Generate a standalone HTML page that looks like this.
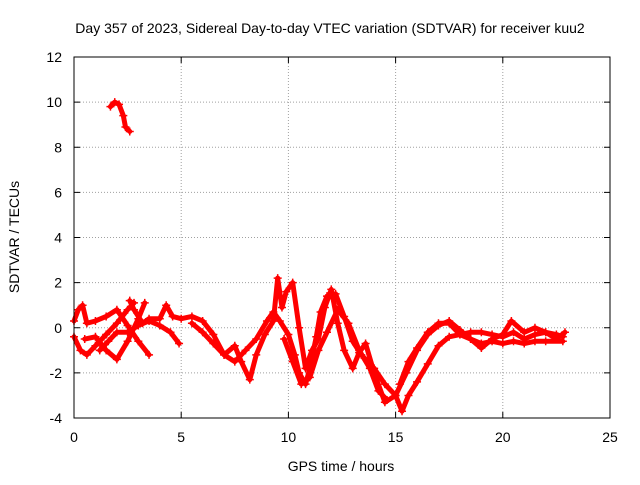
<!DOCTYPE html>
<html><head><meta charset="utf-8"><style>
body{margin:0;background:#fff;font-family:"Liberation Sans",sans-serif;}
svg text{font-family:"Liberation Sans",sans-serif;font-size:14px;fill:#000;}
</style></head><body>
<svg id="chart" width="640" height="480">
<text x="330" y="33" text-anchor="middle">Day 357 of 2023, Sidereal Day-to-day VTEC variation (SDTVAR) for receiver kuu2</text>
<text x="341" y="471" text-anchor="middle">GPS time / hours</text>
<text transform="translate(19,237) rotate(-90)" text-anchor="middle">SDTVAR / TECUs</text>
<g id="grid"></g><g id="series"></g>
<rect x="74" y="57" width="536" height="361" fill="none" stroke="#000"/>
</svg>
<script>
const xTicks=[0,5,10,15,20,25];
const yTicks=[-4,-2,0,2,4,6,8,10,12];
const traceHigh=[[1.7,9.8],[1.9,10.0],[2.1,9.9],[2.3,9.4],[2.4,8.9],[2.6,8.7]];
const traceA=[[0,-0.4],[0.3,-1.0],[0.6,-1.2],[1,-0.8],[1.5,-0.3],[2,0.2],[2.5,0.8],[2.8,1.1]];
const traceB=[[0,0.3],[0.2,0.8],[0.4,1.0],[0.6,0.2],[1,0.3],[1.5,0.5],[2,0.8],[2.5,0.1],[3,-0.6],[3.5,-1.2]];
const traceC=[[0.5,-0.5],[1,-0.4],[1.5,-1.0],[2,-1.4],[2.5,-0.6],[3,0.4],[3.3,1.1]];
const traceD=[[1.2,-1.0],[1.6,-0.6],[2,-0.2],[2.5,-0.2],[3,0.1],[3.5,0.3],[4,0.1],[4.5,-0.2],[4.9,-0.7]];
const traceE=[[2.6,1.2],[2.8,0.8],[3.2,0.2],[3.5,0.4],[4,0.4],[4.3,1.0],[4.6,0.5],[5,0.4],[5.5,0.5],[6,0.3],[6.5,-0.3],[7,-1.2],[7.5,-1.5],[8,-1.0],[8.5,-0.5],[9,0.3],[9.3,0.7],[9.6,0.3],[10,-0.3],[10.3,-1.2],[10.5,-2.0],[10.8,-2.5],[11,-1.8],[11.3,-0.4],[11.5,0.7],[11.8,1.4],[12.2,1.5],[12.6,0.5],[13,-0.6],[13.4,-1.2],[14,-1.8],[14.5,-2.5],[15,-3.0],[15.3,-3.7],[15.6,-3.0],[16,-2.4],[16.5,-1.6],[17,-0.8],[17.5,-0.4],[18,-0.3],[18.5,-0.5],[19,-0.7],[19.5,-0.6],[20,-0.7],[20.5,-0.6],[21,-0.7],[21.5,-0.6],[22,-0.6],[22.8,-0.6]];
const traceF=[[5.5,0.2],[6,-0.2],[6.5,-0.7],[7,-1.2],[7.5,-0.8],[7.8,-1.5],[8.2,-2.3],[8.5,-1.2],[8.9,-0.3],[9.3,0.3],[9.5,2.2],[9.7,0.9],[9.9,1.6],[10.2,2.0],[10.5,0.0],[10.8,-1.8],[11.1,-1.0],[11.4,-0.5],[11.7,0.9],[12.0,1.7],[12.3,0.2],[12.6,-1.0],[13,-1.8],[13.3,-1.1],[13.6,-0.7],[14.0,-2.0],[14.5,-3.3],[15,-3.0],[15.5,-2.0],[16,-1.0],[16.5,-0.3],[17,0.1],[17.5,0.3],[18,-0.1],[18.5,-0.5],[19,-0.9],[19.5,-0.5],[20,-0.3],[20.4,0.3],[21,-0.2],[21.5,0.0],[22,-0.2],[22.5,-0.3],[22.8,-0.4]];
const traceG=[[15.2,-2.5],[15.6,-1.5],[16,-0.9],[16.5,-0.2],[17,0.2],[17.5,0.2],[18,-0.3],[18.5,-0.2],[19,-0.2],[19.5,-0.3],[20,-0.4],[20.5,-0.2],[21,-0.5],[21.5,-0.3],[22,-0.2],[22.5,-0.5],[22.9,-0.2]];
const traceH=[[9.8,-0.5],[10.2,-1.5],[10.6,-2.5],[11.0,-2.2],[11.4,-1.0],[11.8,-0.2],[12.3,0.8],[12.8,0.2],[13.3,-1.0],[13.8,-1.8],[14.2,-2.8],[14.6,-3.2]];
const traces=[traceHigh,traceA,traceB,traceC,traceD,traceE,traceF,traceG,traceH];

const X=v=>74+v*(536/25);
const Y=v=>418-(v+4)*(361/16);
const NS="http://www.w3.org/2000/svg";
const grid=document.getElementById('grid'), ser=document.getElementById('series');
function mk(tag,at,parent){const e=document.createElementNS(NS,tag);for(const k in at)e.setAttribute(k,at[k]);parent.appendChild(e);return e;}
xTicks.forEach(t=>{
  const l=mk('line',{x1:X(t),x2:X(t),y1:57,y2:418,stroke:'#a0a0a0','stroke-dasharray':'1,2'},grid);
  
  
  const tx=mk('text',{x:X(t),y:442,'text-anchor':'middle'},grid);tx.textContent=t;
  
  
  mk('line',{x1:X(t),x2:X(t),y1:418,y2:412,stroke:'#000'},grid);
  mk('line',{x1:X(t),x2:X(t),y1:57,y2:63,stroke:'#000'},grid);
});
yTicks.forEach(t=>{
  const l=mk('line',{x1:74,x2:610,y1:Y(t),y2:Y(t),stroke:'#a0a0a0','stroke-dasharray':'1,2'},grid);
  
  
  const tx=mk('text',{x:62,y:Y(t)+5,'text-anchor':'end'},grid);tx.textContent=t;
  
  
  mk('line',{x1:74,x2:80,y1:Y(t),y2:Y(t),stroke:'#000'},grid);
  mk('line',{x1:604,x2:610,y1:Y(t),y2:Y(t),stroke:'#000'},grid);
});
traces.forEach(tr=>{
  const p=mk('polyline',{points:tr.map(d=>X(d[0])+','+Y(d[1])).join(' '),fill:'none',stroke:'#f00','stroke-width':5,'stroke-linejoin':'round','stroke-linecap':'round'},ser);
  
  
  tr.forEach(d=>{
    const m=mk('path',{d:`M${X(d[0])-4},${Y(d[1])}h8M${X(d[0])},${Y(d[1])-4}v8`,stroke:'#f00','stroke-width':1.5},ser);
    
    
  });
});
</script>
</body></html>
